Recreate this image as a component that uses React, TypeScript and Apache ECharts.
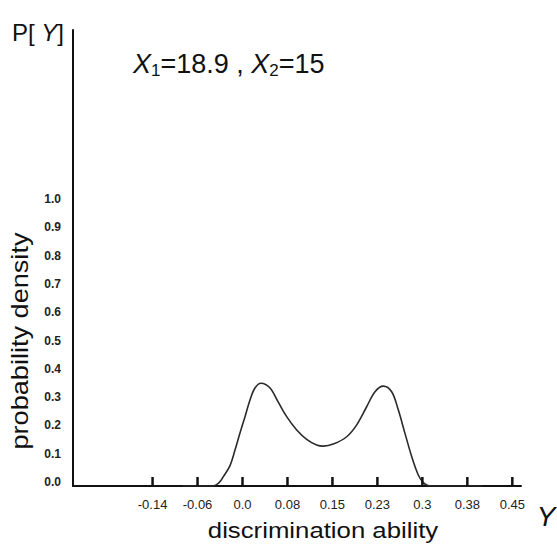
import React, { useEffect, useRef } from "react";
import * as echarts from "echarts";

// Curve: discrimination ability (x) vs probability density (y)
const curveX = [
  -0.1, -0.05, -0.039, -0.032, -0.0208, -0.0125, -0.0042, 0.0042, 0.0125, 0.0208, 0.0309,
  0.0459, 0.0592, 0.0737, 0.0904, 0.107, 0.1237, 0.1348, 0.1514, 0.1738, 0.1905,
  0.2071, 0.221, 0.2348, 0.2488, 0.2598, 0.271, 0.2822, 0.2932, 0.3015, 0.308, 0.316, 0.4,
];
const curveY = [
  0, 0, 0.012, 0.033, 0.072, 0.127, 0.187, 0.245, 0.304, 0.346, 0.363,
  0.346, 0.298, 0.245, 0.198, 0.165, 0.145, 0.141, 0.148, 0.174, 0.216,
  0.28, 0.333, 0.353, 0.333, 0.269, 0.186, 0.104, 0.039, 0.012, 0.003, 0, 0,
];

// Tick positions and the labels printed at them
const xTickValues = [-0.15, -0.075, 0, 0.075, 0.15, 0.225, 0.3, 0.375, 0.45];
const xTickLabels = ["-0.14", "-0.06", "0.0", "0.08", "0.15", "0.23", "0.3", "0.38", "0.45"];
const yTickValues = [0, 0.1, 0.2, 0.3, 0.4, 0.5, 0.6, 0.7, 0.8, 0.9, 1.0];
const yTickLabels = ["0.0", "0.1", "0.2", "0.3", "0.4", "0.5", "0.6", "0.7", "0.8", "0.9", "1.0"];

const FONT = "'Liberation Sans', Arial, Helvetica, sans-serif";
const Y_LABEL_LIFT = 0.014; // printed y labels sit slightly above their values

export default function App() {
  const ref = useRef<HTMLDivElement>(null);

  useEffect(() => {
    if (!ref.current) return;
    const chart = echarts.init(ref.current, undefined, { renderer: "svg" });
    const data = curveX.map((x, i) => [x, curveY[i]]);
    const xLabelFor = (v: number) => {
      const i = xTickValues.findIndex((t) => Math.abs(t - v) < 1e-6);
      return i >= 0 ? xTickLabels[i] : "";
    };
    const yLabelPos = yTickValues.map((v) => v + Y_LABEL_LIFT);
    const yLabelFor = (v: number) => {
      const i = yLabelPos.findIndex((t) => Math.abs(t - v) < 1e-6);
      return i >= 0 ? yTickLabels[i] : "";
    };
    chart.setOption({
      animation: false,
      backgroundColor: "#ffffff",
      textStyle: { fontFamily: FONT },
      grid: { left: 73, right: 36, top: 30, bottom: 59, containLabel: false },
      xAxis: {
        type: "value",
        min: -0.2827,
        max: 0.4645,
        splitLine: { show: false },
        axisLine: { show: true, onZero: false, lineStyle: { color: "#111", width: 2 } },
        axisTick: { show: false },
        axisLabel: {
          show: true,
          customValues: xTickValues,
          formatter: (v: number) => xLabelFor(v),
          margin: 12,
          fontSize: 13,
          color: "#222",
          fontFamily: FONT,
        },
      },
      yAxis: {
        type: "value",
        min: 0,
        max: 1.611,
        splitLine: { show: false },
        axisLine: { show: true, onZero: false, lineStyle: { color: "#111", width: 2 } },
        axisTick: { show: false },
        axisLabel: {
          show: true,
          customValues: yLabelPos,
          formatter: (v: number) => yLabelFor(v),
          margin: 12,
          fontSize: 12,
          fontWeight: "bold",
          color: "#222",
          fontFamily: FONT,
        },
      },
      series: [
        {
          type: "line",
          data,
          smooth: 0.35,
          symbol: "none",
          lineStyle: { color: "#2a2a2a", width: 1.6 },
          z: 2,
        },
      ],
    });

    // x-axis tick marks placed through the library's own scale
    const tickMarks = xTickValues.map((v, i) => {
      const p = chart.convertToPixel({ gridIndex: 0 }, [v, 0]) as number[];
      return {
        type: "line",
        id: `tick${i}`,
        z: 100,
        shape: { x1: p[0], y1: p[1], x2: p[0], y2: p[1] - 9 },
        style: { stroke: "#111", lineWidth: 2.5 },
        silent: true,
      };
    });

    chart.setOption({
      graphic: [
        ...tickMarks,
        {
          type: "text",
          id: "py",
          x: 12,
          y: 32,
          style: {
            text: "P[ {i|Y}]",
            font: `24px ${FONT}`,
            fill: "#111",
            textAlign: "left",
            textVerticalAlign: "middle",
            rich: {
              i: { fontStyle: "italic", fontSize: 24, fontFamily: FONT, fill: "#111" },
            },
          },
        },
        {
          type: "text",
          id: "params",
          x: 133,
          y: 64,
          style: {
            text: "{i|X}{s|1}{n|=18.9 , }{i|X}{s|2}{n|=15}",
            fill: "#111",
            textAlign: "left",
            textVerticalAlign: "middle",
            rich: {
              i: { fontStyle: "italic", fontSize: 27, lineHeight: 30, fontFamily: FONT, fill: "#111" },
              n: { fontSize: 27, lineHeight: 30, fontFamily: FONT, fill: "#111" },
              s: { fontSize: 17, lineHeight: 12, verticalAlign: "bottom", fontFamily: FONT, fill: "#111" },
            },
          },
        },
        {
          type: "text",
          id: "yname",
          x: 20,
          y: 341,
          rotation: Math.PI / 2,
          scaleX: 1.13,
          style: {
            text: "probability density",
            font: `24px ${FONT}`,
            fill: "#111",
            textAlign: "center",
            textVerticalAlign: "middle",
          },
        },
        {
          type: "text",
          id: "xname",
          x: 323,
          y: 530,
          scaleX: 1.12,
          style: {
            text: "discrimination ability",
            font: `23px ${FONT}`,
            fill: "#111",
            textAlign: "center",
            textVerticalAlign: "middle",
          },
        },
        {
          type: "text",
          id: "yvar",
          x: 546,
          y: 516,
          style: {
            text: "Y",
            font: `italic 28px ${FONT}`,
            fill: "#111",
            textAlign: "center",
            textVerticalAlign: "middle",
          },
        },
      ],
    });
    return () => chart.dispose();
  }, []);

  return <div ref={ref} style={{ width: 557, height: 545, position: "absolute", left: 0, top: 0 }} />;
}
